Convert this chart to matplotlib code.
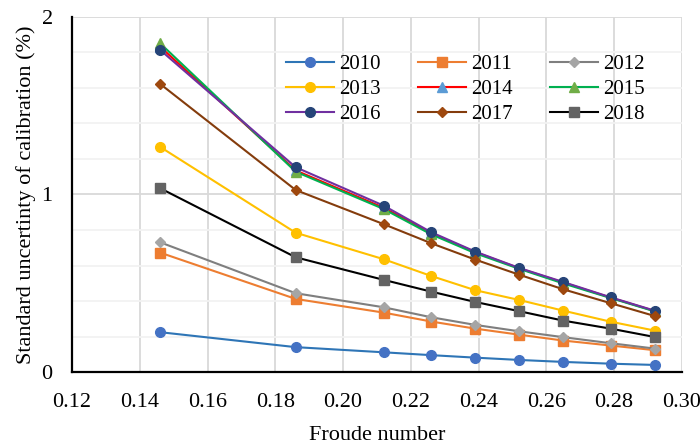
import numpy as np
import matplotlib.pyplot as plt
from matplotlib.ticker import MultipleLocator

plt.rcParams['font.family'] = ['Liberation Serif', 'DejaVu Serif']

froude = [0.146, 0.186, 0.212, 0.226, 0.239, 0.252, 0.265, 0.279, 0.292]

u2010 = [0.226, 0.142, 0.113, 0.097, 0.083, 0.070, 0.059, 0.049, 0.042]
u2011 = [0.673, 0.413, 0.336, 0.286, 0.246, 0.212, 0.179, 0.151, 0.125]
u2012 = [0.731, 0.445, 0.366, 0.310, 0.267, 0.231, 0.198, 0.164, 0.134]
u2013 = [1.267, 0.785, 0.636, 0.542, 0.462, 0.407, 0.347, 0.285, 0.235]
u2014 = [1.830, 1.135, 0.925, 0.782, 0.676, 0.585, 0.505, 0.420, 0.345]
u2015 = [1.849, 1.128, 0.918, 0.776, 0.670, 0.582, 0.500, 0.418, 0.343]
u2016 = [1.812, 1.153, 0.937, 0.788, 0.679, 0.587, 0.508, 0.422, 0.347]
u2017 = [1.621, 1.025, 0.833, 0.726, 0.634, 0.549, 0.467, 0.389, 0.317]
u2018 = [1.035, 0.647, 0.520, 0.454, 0.396, 0.344, 0.291, 0.246, 0.199]

years = ['2010', '2011', '2012', '2013', '2014', '2015', '2016', '2017', '2018']
series = [u2010, u2011, u2012, u2013, u2014, u2015, u2016, u2017, u2018]

# (line colour, marker, marker colour, marker size)
styles = [
    ('#2E75B6', 'o', '#4472C4', 7),
    ('#ED7D31', 's', '#ED7D31', 7),
    ('#7F7F7F', 'D', '#A5A5A5', 5.5),
    ('#FFC000', 'o', '#FFC000', 7),
    ('#FF0000', '^', '#5B9BD5', 7),
    ('#00B050', '^', '#70AD47', 7),
    ('#7030A0', 'o', '#264478', 7),
    ('#843C0C', 'D', '#9E480E', 5.5),
    ('#000000', 's', '#636363', 7),
]

fig = plt.figure(figsize=(7, 4.46), dpi=100)
ax = fig.add_axes([0.103, 0.165, 0.871, 0.798])

lines = []
for year, vals, (lc, mk, mc, ms) in zip(years, series, styles):
    ln, = ax.plot(froude, vals, color=lc, lw=1.5, marker=mk, ms=ms,
                  markerfacecolor=mc, markeredgecolor=mc, label=year, zorder=3)
    lines.append(ln)

ax.set_xlim(0.12, 0.30)
ax.set_ylim(0, 2)
ax.xaxis.set_major_locator(MultipleLocator(0.02))
ax.yaxis.set_major_locator(MultipleLocator(1))
ax.yaxis.set_minor_locator(MultipleLocator(0.2))
ax.xaxis.set_major_formatter(plt.FuncFormatter(lambda v, p: f'{v:.2f}'))
ax.yaxis.set_major_formatter(plt.FuncFormatter(lambda v, p: f'{v:.0f}'))

ax.grid(which='major', axis='both', color='#D9D9D9', lw=1.3, zorder=0)
ax.grid(which='minor', axis='y', color='#F2F2F2', lw=1.3, zorder=0)
ax.set_axisbelow(True)

for side in ['top', 'right']:
    ax.spines[side].set_visible(False)
for side in ['left', 'bottom']:
    ax.spines[side].set_linewidth(1.6)
    ax.spines[side].set_color('black')

ax.tick_params(which='both', length=0, labelsize=16, colors='black')
ax.tick_params(axis='x', pad=15)
ax.tick_params(axis='y', pad=14)

ax.set_xlabel('Froude number', fontsize=16, labelpad=10)
ax.set_ylabel('Standard uncertinty of calibration (%)', fontsize=16, labelpad=4)

# legend fills row-wise: 2010 2011 2012 / 2013 2014 2015 / 2016 2017 2018
order = [0, 3, 6, 1, 4, 7, 2, 5, 8]
ax.legend([lines[i] for i in order], [years[i] for i in order],
          ncol=3, loc='upper left', bbox_to_anchor=(0.408, 0.878),
          bbox_transform=fig.transFigure, frameon=False, fontsize=15,
          handlelength=2.3, handletextpad=0.25, columnspacing=1.8,
          labelspacing=0.27, borderpad=0, borderaxespad=0)

fig.savefig('out.png', dpi=100)
